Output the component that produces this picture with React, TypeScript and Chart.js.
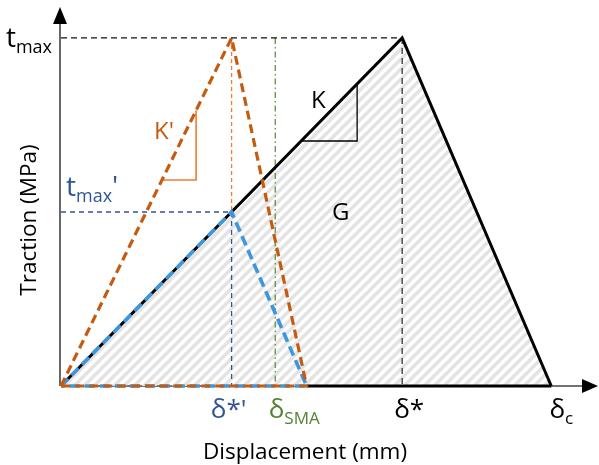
import React, { useEffect, useRef } from "react";
import { Chart, registerables } from "chart.js";

Chart.register(...registerables);

// Traction–separation law, normalised: δ* = 1, t_max = 1
const deltaStar = 1;
const deltaStarPrime = 0.5;
const deltaSMA = 0.628;
const deltaC = 1.437;
const deltaEndPrime = 0.72;
const tMax = 1;
const tMaxPrime = 0.5;

// Bilinear laws (x = displacement, y = traction)
const baseLawX = [0, deltaStar, deltaC];
const baseLawY = [0, tMax, 0];
const stiffLawX = [0, deltaStarPrime, deltaEndPrime, 0];
const stiffLawY = [0, tMax, 0, 0];
const weakLawX = [0, deltaStarPrime, deltaEndPrime, 0];
const weakLawY = [0, tMaxPrime, 0, 0];

// Slope markers
const kPrimeX = [0.296, 0.396, 0.396];
const kPrimeY = [0.592, 0.592, 0.792];
const kX = [0.704, 0.868, 0.868];
const kY = [0.704, 0.704, 0.868];

const xMax = 1.574;
const yMax = 1.089;

const FONT = "'Open Sans', sans-serif";
const ORANGE = "#C55A11";
const ORANGE_LIGHT = "#ED7D31";
const BLUE = "#3E97DC";
const BLUE_DARK = "#2F5597";
const GREEN = "#548235";

const pts = (xs: number[], ys: number[]) => xs.map((x, i) => ({ x, y: ys[i] }));

function makeHatch(): CanvasPattern | string {
  const s = 10;
  const c = document.createElement("canvas");
  c.width = s;
  c.height = s;
  const g = c.getContext("2d");
  if (!g) return "#eeeeee";
  g.strokeStyle = "#e3e3e3";
  g.lineWidth = 3.4;
  g.beginPath();
  g.moveTo(0, s);
  g.lineTo(s, 0);
  g.moveTo(-3, 3);
  g.lineTo(3, -3);
  g.moveTo(s - 3, s + 3);
  g.lineTo(s + 3, s - 3);
  g.stroke();
  const p = g.createPattern(c, "repeat");
  return p || "#eeeeee";
}

type Part = { text: string; sub?: boolean };

function drawRich(
  ctx: CanvasRenderingContext2D,
  x: number,
  y: number,
  parts: Part[],
  size: number,
  color: string,
  align: "left" | "center" | "right"
) {
  const subSize = Math.round(size * 0.66);
  const widths = parts.map((p) => {
    ctx.font = `${p.sub ? subSize : size}px ${FONT}`;
    return ctx.measureText(p.text).width;
  });
  const total = widths.reduce((a, b) => a + b, 0);
  let cx = align === "left" ? x : align === "center" ? x - total / 2 : x - total;
  ctx.fillStyle = color;
  ctx.textBaseline = "alphabetic";
  ctx.textAlign = "left";
  parts.forEach((p, i) => {
    ctx.font = `${p.sub ? subSize : size}px ${FONT}`;
    ctx.fillText(p.text, cx, p.sub ? y + size * 0.22 : y);
    cx += widths[i];
  });
}

const axesPlugin = {
  id: "tslAxes",
  beforeDatasetsDraw(chart: any) {
    const { ctx, scales } = chart;
    const x0 = scales.x.getPixelForValue(0);
    const y0 = scales.y.getPixelForValue(0);
    const top = scales.y.getPixelForValue(yMax);
    const right = scales.x.getPixelForValue(xMax);
    ctx.save();
    ctx.strokeStyle = "#444444";
    ctx.fillStyle = "#000000";
    ctx.lineWidth = 1.6;
    ctx.beginPath();
    ctx.moveTo(x0 - 1, y0);
    ctx.lineTo(x0 - 1, top + 14);
    ctx.moveTo(x0, y0);
    ctx.lineTo(right - 14, y0);
    ctx.stroke();
    // arrow heads
    ctx.beginPath();
    ctx.moveTo(x0 - 1, top);
    ctx.lineTo(x0 - 8, top + 17);
    ctx.lineTo(x0 + 6, top + 17);
    ctx.closePath();
    ctx.fill();
    ctx.beginPath();
    ctx.moveTo(right, y0);
    ctx.lineTo(right - 16, y0 - 7);
    ctx.lineTo(right - 16, y0 + 7);
    ctx.closePath();
    ctx.fill();
    ctx.restore();
  },
};

const labelsPlugin = {
  id: "tslLabels",
  afterDraw(chart: any) {
    const { ctx, scales } = chart;
    const px = (v: number) => scales.x.getPixelForValue(v);
    const py = (v: number) => scales.y.getPixelForValue(v);
    const x0 = px(0);
    const y0 = py(0);
    const below = y0 + 32;
    ctx.save();
    drawRich(ctx, x0 - 9, py(tMax) + 9, [{ text: "t" }, { text: "max", sub: true }], 28, "#000000", "right");
    drawRich(ctx, x0 + 5, py(tMaxPrime) - 16, [{ text: "t" }, { text: "max", sub: true }, { text: "'" }], 28, BLUE_DARK, "left");
    drawRich(ctx, 154, 139, [{ text: "K'" }], 24, ORANGE, "left");
    drawRich(ctx, 311, 108, [{ text: "K" }], 24, "#000000", "left");
    drawRich(ctx, 332, 220, [{ text: "G" }], 24, "#000000", "left");
    drawRich(ctx, px(deltaStarPrime) - 3, below, [{ text: "δ*'" }], 26, BLUE_DARK, "center");
    drawRich(ctx, px(deltaSMA) + 19, below, [{ text: "δ" }, { text: "SMA", sub: true }], 26, GREEN, "center");
    drawRich(ctx, px(deltaStar) + 7, below, [{ text: "δ*" }], 26, "#000000", "center");
    drawRich(ctx, px(deltaC) + 10, below, [{ text: "δ" }, { text: "c", sub: true }], 26, "#000000", "center");
    drawRich(ctx, 305, 459, [{ text: "Displacement (mm)" }], 22.5, "#000000", "center");
    ctx.translate(36, 220);
    ctx.rotate(-Math.PI / 2);
    drawRich(ctx, 0, 0, [{ text: "Traction (MPa)" }], 22.5, "#000000", "center");
    ctx.restore();
  },
};

export default function App() {
  const ref = useRef<HTMLCanvasElement | null>(null);

  useEffect(() => {
    document.body.style.margin = "0";
    const canvas = ref.current;
    if (!canvas) return;
    const hatch = makeHatch();
    const line = (
      data: { x: number; y: number }[],
      color: string,
      width: number,
      dash: number[],
      order: number,
      extra: Record<string, unknown> = {}
    ) => ({
      data,
      showLine: true,
      borderColor: color,
      borderWidth: width,
      borderDash: dash,
      pointRadius: 0,
      fill: false,
      tension: 0,
      order,
      clip: false,
      ...extra,
    });

    const chart = new Chart(canvas, {
      type: "scatter",
      data: {
        datasets: [
          // hatched fracture energy area
          line(pts(baseLawX, baseLawY), "rgba(0,0,0,0)", 0, [], 20, {
            fill: "origin",
            backgroundColor: hatch,
          }),
          // guide lines
          line(pts([0, deltaStar], [tMax, tMax]), "#111111", 1.3, [6, 4], 15),
          line(pts([deltaStar, deltaStar], [tMax, 0]), "#333333", 1.3, [6, 4], 15),
          line(pts([deltaSMA, deltaSMA], [tMax, 0]), "#5E9140", 1.3, [6, 3, 1.5, 3], 15),
          line(pts([deltaStarPrime, deltaStarPrime], [tMax, tMaxPrime]), ORANGE_LIGHT, 1.3, [4, 3], 15),
          line(pts([deltaStarPrime, deltaStarPrime], [tMaxPrime, 0]), BLUE_DARK, 1.3, [5, 4], 15),
          line(pts([0, deltaStarPrime], [tMaxPrime, tMaxPrime]), BLUE_DARK, 1.3, [5, 4], 15),
          // slope markers
          line(pts(kPrimeX, kPrimeY), ORANGE_LIGHT, 1.6, [], 12),
          line(pts(kX, kY), "#000000", 1.3, [], 12),
          // base law
          line(pts(baseLawX, baseLawY), "#000000", 3, [], 6),
          line(pts([deltaEndPrime, deltaC], [0, 0]), "#000000", 3, [], 6),
          // reduced-strength law
          line(pts(weakLawX, weakLawY), BLUE, 3.6, [10, 5], 4),
          // stiffened law
          line(pts(stiffLawX, stiffLawY), ORANGE, 3.2, [9, 5], 2),
        ],
      },
      options: {
        animation: false,
        responsive: false,
        events: [],
        layout: { padding: { left: 61, right: 1, top: 7, bottom: 79 } },
        scales: {
          x: { type: "linear", min: 0, max: xMax, display: false },
          y: { type: "linear", min: 0, max: yMax, display: false },
        },
        plugins: {
          legend: { display: false },
          tooltip: { enabled: false },
          title: { display: false },
        },
      },
      plugins: [axesPlugin, labelsPlugin],
    });
    return () => chart.destroy();
  }, []);

  return (
    <div style={{ position: "absolute", left: 0, top: 0, width: 599, height: 465, background: "#ffffff" }}>
      <canvas ref={ref} width={599} height={465} />
    </div>
  );
}
